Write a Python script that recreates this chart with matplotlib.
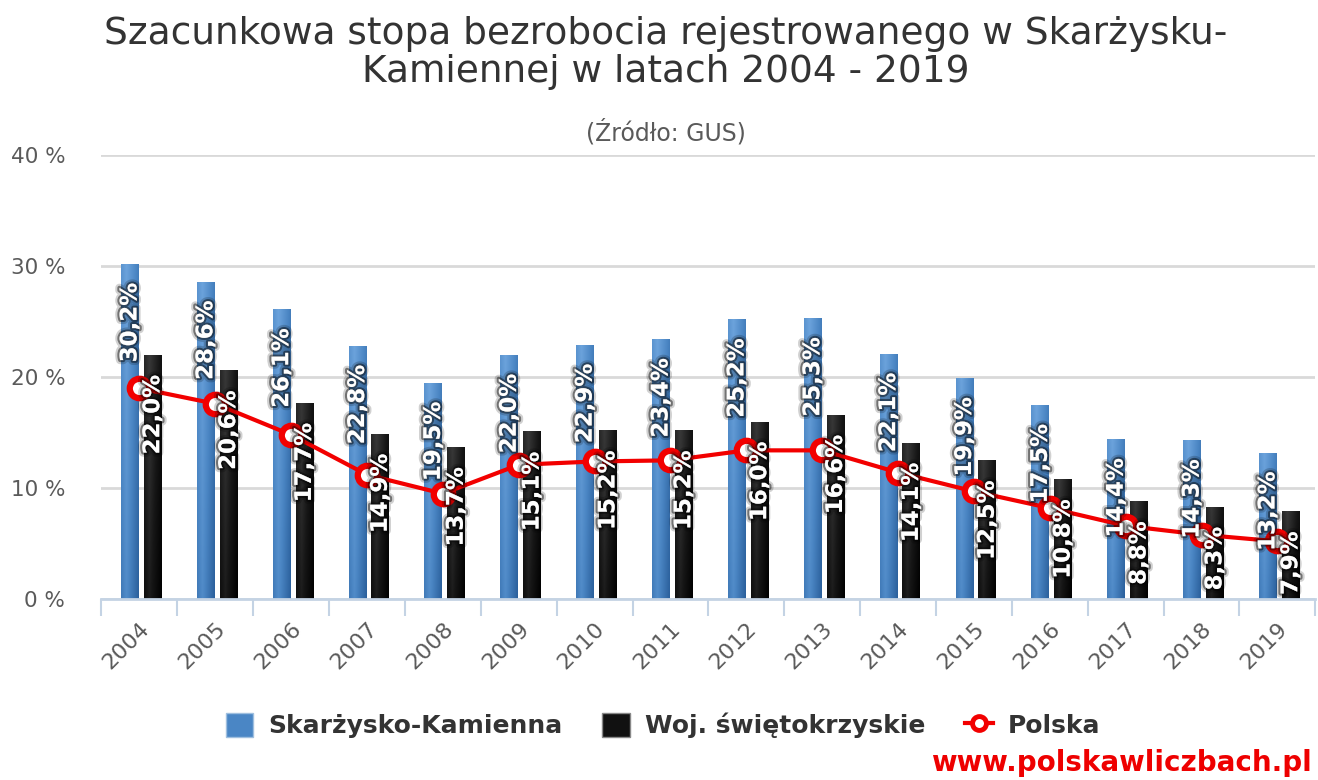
import numpy as np
import matplotlib
matplotlib.use('Agg')
import matplotlib.pyplot as plt
import matplotlib.patheffects as pe
from matplotlib.colors import LinearSegmentedColormap
from matplotlib.lines import Line2D
from matplotlib.patches import Patch

# dane (GUS)
lata = ['2004', '2005', '2006', '2007', '2008', '2009', '2010', '2011',
        '2012', '2013', '2014', '2015', '2016', '2017', '2018', '2019']
skarzysko = [30.2, 28.6, 26.1, 22.8, 19.5, 22.0, 22.9, 23.4,
             25.2, 25.3, 22.1, 19.9, 17.5, 14.4, 14.3, 13.2]
swietokrzyskie = [22.0, 20.6, 17.7, 14.9, 13.7, 15.1, 15.2, 15.2,
                  16.0, 16.6, 14.1, 12.5, 10.8, 8.8, 8.3, 7.9]
polska = [19.0, 17.6, 14.8, 11.2, 9.5, 12.1, 12.4, 12.5,
          13.4, 13.4, 11.4, 9.7, 8.2, 6.6, 5.8, 5.2]

plt.rcParams['font.family'] = ['DejaVu Sans']

szary = '#5a5a5a'
czerwony = '#f20000'
cm_blue = LinearSegmentedColormap.from_list('nieb', ['#2b609c', '#4a85c3', '#6ca3dc'])
cm_black = LinearSegmentedColormap.from_list('czarn', ['#000000', '#161616', '#383838'])


# gradient w slupkach (obraz przyciety do prostokata)
def gradient(ax, bars, cmap):
    xx, yy = np.meshgrid(np.linspace(0, 1, 30), np.linspace(0, 1, 60))
    g = 0.6 * np.clip(1 - np.abs(xx - 0.3) / 0.7, 0, 1) + 0.4 * yy
    for b in bars:
        x0, y0 = b.get_xy()
        img = ax.imshow(g, extent=[x0, x0 + b.get_width(), y0, y0 + b.get_height()],
                        cmap=cmap, aspect='auto', origin='lower', zorder=2.1,
                        vmin=0, vmax=1)
        img.set_clip_path(b)


fig = plt.figure(figsize=(13.18, 7.8), dpi=100)
ax = fig.add_axes([0.077, 0.232, 0.921, 0.569])

x = np.arange(len(lata))
w = 0.235
b1 = ax.bar(x - 0.125, skarzysko, w, color='#4a86c5', zorder=2)
b2 = ax.bar(x + 0.175, swietokrzyskie, w, color='#111111', zorder=2)
gradient(ax, b1, cm_blue)
gradient(ax, b2, cm_black)

ax.plot(x, polska, color=czerwony, lw=3, marker='o', ms=14, mfc='white',
        mec=czerwony, mew=4.5, zorder=4)

cien = [pe.withStroke(linewidth=6, foreground=(0, 0, 0, 0.18)),
        pe.withStroke(linewidth=3, foreground=(0, 0, 0, 0.45))]
for xi, v in zip(x, skarzysko):
    ax.text(xi - 0.125, v - 1.7, f'{v:.1f}%'.replace('.', ','), rotation=90,
            ha='center', va='top', color='white', fontsize=16.5,
            fontweight='bold', path_effects=cien, zorder=6)
for xi, v in zip(x, swietokrzyskie):
    ax.text(xi + 0.175, v - 1.8, f'{v:.1f}%'.replace('.', ','), rotation=90,
            ha='center', va='top', color='white', fontsize=16.5,
            fontweight='bold', path_effects=cien, zorder=6)

ax.set_xlim(-0.5, 15.5)
ax.set_ylim(0, 40)
ax.set_yticks([0, 10, 20, 30, 40], ['0 %', '10 %', '20 %', '30 %', '40 %'])
ax.set_xticks(x, lata)
ax.set_xticks(np.arange(-0.5, 16, 1), minor=True)
ax.tick_params(axis='x', which='major', length=0, pad=14, labelsize=16,
               labelcolor=szary, labelrotation=45)
for t in ax.get_xticklabels():
    t.set_ha('right')
    t.set_rotation_mode('anchor')
ax.tick_params(axis='x', which='minor', length=12, width=1.5, color='#c4d3e4')
ax.tick_params(axis='y', length=0, pad=26, labelsize=15.5, labelcolor=szary)
ax.grid(axis='y', color='#d9d9d9', lw=2, zorder=0)
ax.set_axisbelow(True)
for s in ['top', 'right', 'left']:
    ax.spines[s].set_visible(False)
ax.spines['bottom'].set_color('#c4d3e4')
ax.spines['bottom'].set_linewidth(2)

fig.text(0.505, 0.932, 'Szacunkowa stopa bezrobocia rejestrowanego w Skarżysku-\nKamiennej w latach 2004 - 2019',
         ha='center', va='center', fontsize=27, color='#333333', linespacing=1.05)
fig.text(0.505, 0.83, '(Źródło: GUS)', ha='center', va='center',
         fontsize=17, color=szary)

uchwyty = [Patch(facecolor='#4a86c5', edgecolor='#9fbfdf'),
           Patch(facecolor='#111111', edgecolor='#888888'),
           Line2D([], [], color=czerwony, lw=3, marker='o', ms=10, mfc='white',
                  mec=czerwony, mew=3.5)]
fig.legend(uchwyty, ['Skarżysko-Kamienna', 'Woj. świętokrzyskie', 'Polska'],
           loc='center', bbox_to_anchor=(0.503, 0.07), ncol=3, frameon=False,
           prop={'size': 18, 'weight': 'bold'}, labelcolor='#333333',
           handlelength=1.1, handleheight=1.1, columnspacing=1.6, handletextpad=0.6)

fig.text(0.995, 0.004, 'www.polskawliczbach.pl', ha='right', va='bottom',
         fontsize=20, fontweight='bold', color='#ee0000')

fig.savefig('out.png', dpi=100)
